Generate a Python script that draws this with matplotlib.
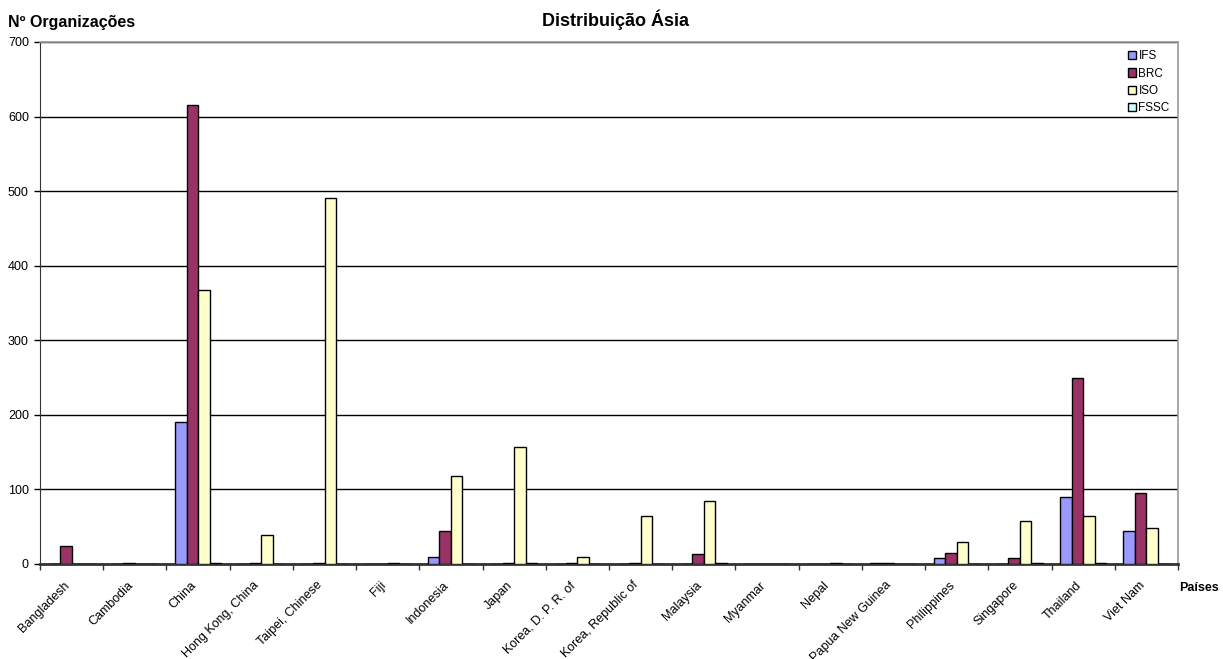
import numpy as np
import matplotlib
matplotlib.use('Agg')
import matplotlib.pyplot as plt
import matplotlib.transforms as mtransforms

plt.rcParams['font.family'] = ['Liberation Sans', 'DejaVu Sans']

# data
paises = ['Bangladesh', 'Cambodia', 'China', 'Hong Kong, China', 'Taipei, Chinese',
          'Fiji', 'Indonesia', 'Japan', 'Korea, D. P. R. of', 'Korea, Republic of',
          'Malaysia', 'Myanmar', 'Nepal', 'Papua New Guinea', 'Philippines',
          'Singapore', 'Thailand', 'Viet Nam']
ifs  = [0, 0, 191, 0, 0, 0, 9, 0, 0, 0, 0, 0, 0, 2, 8, 0, 90, 44]
brc  = [24, 1, 616, 1, 1, 0, 44, 2, 2, 2, 14, 0, 0, 1, 15, 8, 250, 95]
iso  = [0, 0, 368, 39, 491, 1, 118, 157, 9, 64, 85, 0, 1, 0, 29, 57, 64, 48]
fssc = [0, 0, 2, 0, 0, 0, 0, 1, 0, 0, 1, 0, 0, 0, 0, 1, 1, 0]

series = [('IFS', ifs, '#9999FF'), ('BRC', brc, '#993366'),
          ('ISO', iso, '#FFFFCC'), ('FSSC', fssc, '#CCFFFF')]

fig = plt.figure(figsize=(12.23, 6.59), dpi=100)
ax = fig.add_axes([40 / 1223, 95 / 659, 1138 / 1223, 522 / 659])

x = np.arange(len(paises))
w = 0.182
for i, (name, vals, col) in enumerate(series):
    ax.bar(x + (i - 1.5) * w, vals, width=w, color=col, edgecolor='black',
           linewidth=1.0, label=name, zorder=3)

ax.set_xlim(-0.5, len(paises) - 0.5)
ax.set_ylim(0, 700)
ax.set_yticks(np.arange(0, 701, 100))
ax.yaxis.grid(True, color='black', linewidth=1.0, zorder=0)
ax.set_axisbelow(True)

# ticks between categories, labels at the centres
ax.set_xticks(np.arange(-0.5, len(paises), 1.0))
ax.set_xticklabels([])
ax.set_xticks(x, minor=True)
ax.set_xticklabels(paises, minor=True, rotation=45, ha='right',
                   rotation_mode='anchor', fontsize=9)
ax.tick_params(axis='x', which='minor', length=0, pad=6)
ax.tick_params(axis='x', which='major', length=4, width=1, color='#333333')
ax.tick_params(axis='y', length=4, width=1, labelsize=9, pad=4)

# nudge rotated labels down-left like the original
shift = mtransforms.ScaledTranslation(-8 / 100, -7 / 100, fig.dpi_scale_trans)
for lab in ax.get_xticklabels(minor=True):
    lab.set_transform(lab.get_transform() + shift)

for s in ['top', 'right']:
    ax.spines[s].set_color('#999999')
    ax.spines[s].set_linewidth(1.2)
ax.spines['left'].set_color('#333333')
ax.spines['bottom'].set_color('#333333')
ax.spines['bottom'].set_linewidth(2)

ax.legend(loc='upper right', frameon=False, fontsize=8.5, handlelength=0.7,
          handleheight=0.7, handletextpad=0.2, labelspacing=0.45,
          borderaxespad=0.3)

fig.text(616 / 1223, 1 - 20 / 659, 'Distribuição Ásia', ha='center', va='center',
         fontsize=13, fontweight='bold')
fig.text(8 / 1223, 1 - 22 / 659, 'Nº Organizações', ha='left', va='center',
         fontsize=11.5, fontweight='bold')
fig.text(1199 / 1223, 1 - 588 / 659, 'Países', ha='center', va='center',
         fontsize=9, fontweight='bold')

fig.savefig('out.png', dpi=100)
